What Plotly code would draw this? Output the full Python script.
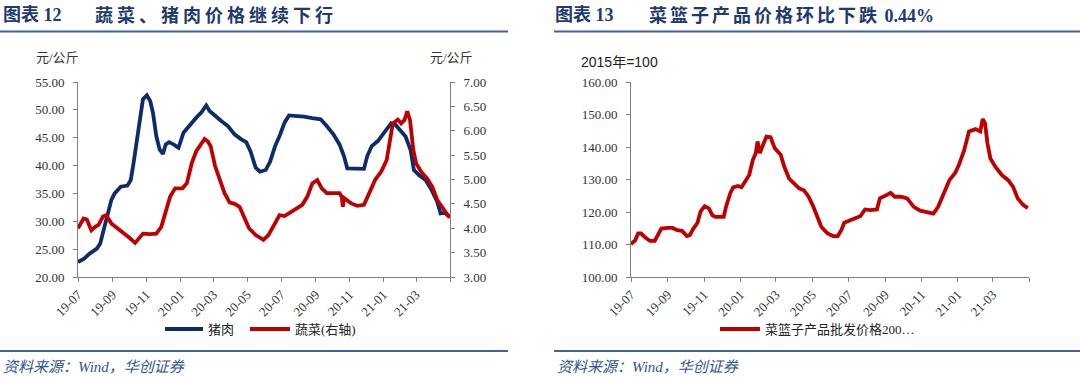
import plotly.graph_objects as go

# ---------------- data ----------------
pork_dates = ["2019-07-01","2019-07-12","2019-07-22","2019-08-04","2019-08-10","2019-08-16","2019-08-21","2019-08-30",
              "2019-09-05","2019-09-16","2019-09-28","2019-10-04","2019-10-09","2019-10-15","2019-10-21","2019-10-26",
              "2019-11-02","2019-11-08","2019-11-13","2019-11-19","2019-11-25","2019-12-01","2019-12-06","2019-12-12",
              "2019-12-20","2019-12-29","2020-01-07","2020-01-19","2020-01-30","2020-02-08","2020-02-17","2020-02-23",
              "2020-03-04","2020-03-15","2020-03-27","2020-04-08","2020-04-20","2020-04-29","2020-05-07","2020-05-16",
              "2020-05-24","2020-06-03","2020-06-11","2020-06-20","2020-06-28","2020-07-07","2020-07-15","2020-07-27",
              "2020-08-11","2020-08-26","2020-09-10","2020-09-21","2020-10-03","2020-10-14","2020-10-22","2020-10-28",
              "2020-11-10","2020-11-27","2020-12-03","2020-12-11","2020-12-22","2021-01-04","2021-01-15","2021-01-23",
              "2021-02-02","2021-02-10","2021-02-19","2021-02-25","2021-03-06","2021-03-18","2021-03-29","2021-04-08",
              "2021-04-14","2021-04-22","2021-04-30"]
pork_values = [22.7,23.3,24.2,25.1,26.0,28.4,30.8,33.8,
               35.0,36.2,36.4,37.4,40.4,44.7,49.5,51.9,
               52.6,51.6,49.5,45.3,42.9,42.1,43.8,44.2,
               43.8,43.2,45.9,47.4,48.6,49.5,50.8,49.8,
               48.9,48.0,47.1,45.6,44.7,44.2,42.5,39.6,
               38.9,39.2,40.7,43.5,45.3,47.7,49.0,48.9,
               48.8,48.5,48.3,47.1,45.6,43.8,41.7,39.5,
               39.5,39.4,41.7,43.5,44.4,46.2,47.6,47.3,
               46.1,45.2,42.8,39.2,38.3,37.4,35.6,33.5,
               31.4,31.5,30.8]

veg_dates = ["2019-07-01","2019-07-11","2019-07-17","2019-07-25","2019-08-01","2019-08-07","2019-08-15","2019-08-21",
             "2019-08-30","2019-09-11","2019-09-19","2019-09-30","2019-10-12","2019-10-18","2019-10-26","2019-11-08",
             "2019-11-19","2019-11-28","2019-12-06","2019-12-14","2019-12-23","2020-01-05","2020-01-13","2020-01-22",
             "2020-01-30","2020-02-08","2020-02-14","2020-02-20","2020-02-25","2020-03-04","2020-03-13","2020-03-21",
             "2020-03-30","2020-04-08","2020-04-17","2020-04-25","2020-05-04","2020-05-16","2020-05-22","2020-05-30",
             "2020-06-08","2020-06-17","2020-06-28","2020-07-07","2020-07-15","2020-07-27","2020-08-08","2020-08-17",
             "2020-08-26","2020-09-04","2020-09-12","2020-09-21","2020-10-03","2020-10-14","2020-10-18","2020-10-20",
             "2020-10-22","2020-11-04","2020-11-15","2020-11-27","2020-12-05","2020-12-17","2020-12-28","2021-01-07",
             "2021-01-13","2021-01-18","2021-01-27","2021-02-02","2021-02-08","2021-02-13","2021-02-18","2021-02-24",
             "2021-03-01","2021-03-10","2021-03-21","2021-03-30","2021-04-08","2021-04-16","2021-04-25","2021-05-01"]
veg_values = [4.00,4.20,4.18,3.96,4.03,4.07,4.24,4.27,
              4.10,4.00,3.93,3.82,3.70,3.77,3.89,3.88,
              3.89,4.03,4.31,4.65,4.82,4.82,4.92,5.34,
              5.58,5.75,5.83,5.78,5.68,5.27,4.99,4.72,
              4.53,4.50,4.44,4.24,4.00,3.86,3.82,3.76,
              3.86,4.03,4.27,4.25,4.31,4.41,4.48,4.65,
              4.92,4.99,4.82,4.72,4.72,4.72,4.65,4.44,
              4.62,4.51,4.46,4.48,4.68,4.99,5.16,5.40,
              5.81,6.15,6.23,6.15,6.22,6.40,6.22,5.60,
              5.33,5.16,5.02,4.85,4.58,4.44,4.30,4.22]

basket_dates = ["2019-07-01","2019-07-08","2019-07-13","2019-07-18","2019-07-24","2019-08-02","2019-08-10","2019-08-15",
                "2019-08-21","2019-09-01","2019-09-09","2019-09-17","2019-09-25","2019-10-03","2019-10-08","2019-10-14",
                "2019-10-21","2019-10-26","2019-11-02","2019-11-09","2019-11-15","2019-11-20","2019-12-04","2019-12-08",
                "2019-12-15","2019-12-20","2019-12-28","2020-01-03","2020-01-11","2020-01-16","2020-01-22","2020-01-27",
                "2020-01-30","2020-02-03","2020-02-07","2020-02-10","2020-02-14","2020-02-21","2020-02-28","2020-03-09",
                "2020-03-15","2020-03-23","2020-04-01","2020-04-09","2020-04-17","2020-04-25","2020-05-03","2020-05-11",
                "2020-05-16","2020-05-19","2020-05-27","2020-06-05","2020-06-13","2020-06-19","2020-06-24","2020-07-02",
                "2020-07-10","2020-07-21","2020-07-29","2020-08-07","2020-08-18","2020-08-23","2020-08-31","2020-09-10",
                "2020-09-17","2020-09-27","2020-10-08","2020-10-19","2020-10-30","2020-11-13","2020-11-21","2020-11-29",
                "2020-12-09","2020-12-18","2020-12-28","2021-01-03","2021-01-12","2021-01-20","2021-01-31","2021-02-08",
                "2021-02-12","2021-02-16","2021-02-20","2021-02-25","2021-03-05","2021-03-16","2021-03-27","2021-04-04",
                "2021-04-12","2021-04-21","2021-04-29"]
basket_values = [110.1,111.3,113.4,113.4,112.3,111.1,111.1,112.9,
                 114.9,115.1,115.1,114.4,114.2,112.6,112.9,114.9,
                 116.7,120.1,121.8,121.1,119.0,118.5,118.5,121.6,
                 125.7,127.6,128.0,127.6,129.8,131.4,136.0,138.1,
                 141.7,138.1,140.1,141.7,143.2,143.0,139.6,137.6,
                 134.0,130.3,128.6,127.3,126.7,124.7,121.6,117.5,
                 115.6,114.9,113.4,112.6,112.6,114.4,116.7,117.3,
                 118.0,118.7,120.8,120.6,120.8,124.2,124.9,125.9,
                 124.7,124.7,124.2,121.6,120.4,119.8,119.5,121.6,
                 126.2,129.8,132.1,134.5,139.1,144.8,145.5,144.8,
                 148.6,147.3,141.2,136.5,134.0,131.4,129.8,127.8,
                 124.2,122.2,121.2]

tick_dates = ["2019-07-01","2019-09-01","2019-11-01","2020-01-01","2020-03-01","2020-05-01",
              "2020-07-01","2020-09-01","2020-11-01","2021-01-01","2021-03-01","2021-05-01"]
tick_labels = ["19-07","19-09","19-11","20-01","20-03","20-05",
               "20-07","20-09","20-11","21-01","21-03",""]

# ---------------- styling ----------------
W, H = 1080, 379
def px(x): return x / W
def py(y): return 1 - y / H

NAVY = "#0E2B6C"
RED = "#C00000"
AXIS = "#808080"
TICKFONT = dict(family="Liberation Serif, Times New Roman, serif", size=13, color="#333333")
TITLE_BLUE = "#1F3A6E"
RULE_BLUE = "#3B64A0"
CJK = "Liberation Serif, Noto Sans CJK SC, sans-serif"

fig = go.Figure()
fig.add_trace(go.Scatter(x=pork_dates, y=pork_values, mode="lines", name="猪肉",
                         line=dict(color=NAVY, width=3.8), xaxis="x", yaxis="y", showlegend=False))
fig.add_trace(go.Scatter(x=veg_dates, y=veg_values, mode="lines", name="蔬菜(右轴)",
                         line=dict(color=RED, width=3.8), xaxis="x", yaxis="y2", showlegend=False))
fig.add_trace(go.Scatter(x=basket_dates, y=basket_values, mode="lines", name="菜篮子产品批发价格200…",
                         line=dict(color=RED, width=3.8), xaxis="x2", yaxis="y3", showlegend=False))

ydom = [py(277), py(82)]
common_x = dict(type="date", range=["2019-07-01", "2021-05-01"], tickmode="array",
                tickvals=tick_dates, ticktext=tick_labels, tickangle=-45, automargin=False,
                showline=True, linecolor=AXIS, linewidth=1, ticks="outside", ticklen=4,
                tickcolor=AXIS, showgrid=False, zeroline=False, tickfont=TICKFONT)
common_y = dict(showline=True, linecolor=AXIS, linewidth=1, ticks="outside", ticklen=4,
                tickcolor=AXIS, showgrid=False, zeroline=False, tickfont=TICKFONT, automargin=False,
                tickformat=".2f", ticklabelstandoff=6)

fig.update_layout(
    width=W, height=H, autosize=False,
    margin=dict(l=0, r=0, t=0, b=0, pad=0, autoexpand=False),
    paper_bgcolor="white", plot_bgcolor="white",
    showlegend=False,
    xaxis=dict(domain=[px(78), px(450)], anchor="y", **common_x),
    yaxis=dict(domain=ydom, anchor="x", range=[20, 55], tick0=20, dtick=5, **common_y),
    yaxis2=dict(overlaying="y", anchor="x", side="right", range=[3, 7], tick0=3, dtick=0.5, **common_y),
    xaxis2=dict(domain=[px(631), px(1029)], anchor="y3", **common_x),
    yaxis3=dict(domain=ydom, anchor="x2", range=[100, 160], tick0=100, dtick=10, **common_y),
)

shapes = []
annotations = []
# title rules & footer rules
for (x0, x1) in [(0, 508), (554, 1080)]:
    shapes.append(dict(type="line", xref="paper", yref="paper", x0=px(x0), x1=px(x1), y0=py(31.5), y1=py(31.5),
                       line=dict(color=RULE_BLUE, width=2)))
    shapes.append(dict(type="line", xref="paper", yref="paper", x0=px(x0), x1=px(x1), y0=py(351), y1=py(351),
                       line=dict(color=RULE_BLUE, width=2)))

def note(x, y, text, size, color="#333333", family=CJK, xanchor="left"):
    annotations.append(dict(x=px(x), y=py(y), xref="paper", yref="paper", text=text, showarrow=False,
                            xanchor=xanchor, yanchor="middle", font=dict(family=family, size=size, color=color)))

# titles
note(1, 15, "<b>图表 12</b>", 18, TITLE_BLUE)
note(93, 15, '<b><span style="letter-spacing:4px">蔬菜、猪肉价格继续下行</span></b>', 18, TITLE_BLUE)
note(553, 15, "<b>图表 13</b>", 18, TITLE_BLUE)
note(647, 15, '<b><span style="letter-spacing:3px">菜篮子产品价格环比下跌</span> 0.44%</b>', 18, TITLE_BLUE)

# units
note(34, 57, "元/公斤", 13, "#333333")
note(428, 57, "元/公斤", 13, "#333333")
note(579, 62, "2015年=100", 14, "#222222", family="Liberation Sans, Arial, Noto Sans CJK SC, sans-serif")

# legends (manual)
def legend_item(x0, x1, y, color, text):
    shapes.append(dict(type="line", xref="paper", yref="paper", x0=px(x0), x1=px(x1), y0=py(y), y1=py(y),
                       line=dict(color=color, width=4)))
    note(x1 + 3, y, text, 13, "#222222")

legend_item(165, 203, 329, NAVY, "猪肉")
legend_item(250, 290, 329, RED, "蔬菜(右轴)")
legend_item(720, 760, 329, RED, "菜篮子产品批发价格200…")

# footers
note(1, 367, "<i>资料来源：Wind，华创证券</i>", 15, "#2F5597")
note(555, 367, "<i>资料来源：Wind，华创证券</i>", 15, "#2F5597")

fig.update_layout(shapes=shapes, annotations=annotations)

fig.write_html("out.html", config={"displayModeBar": False},
               post_script="document.body.style.margin='0px';")
